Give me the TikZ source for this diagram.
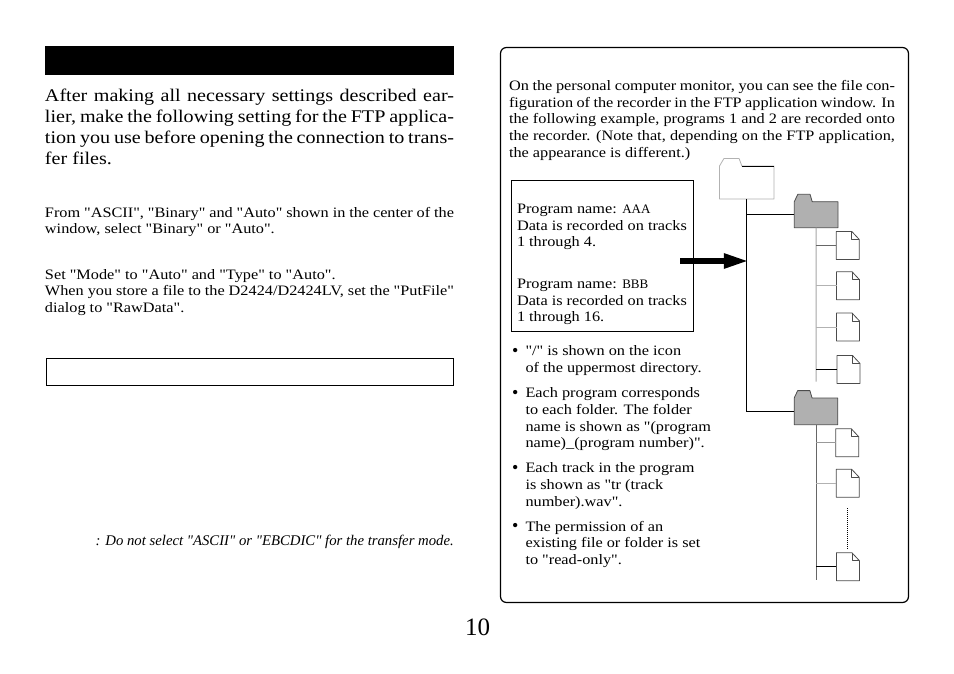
\documentclass[tikz,border=0pt]{standalone}
\usepackage{fontspec}
\setmainfont{Liberation Serif}[FakeStretch=1.13,Ligatures=TeXOff]
\newfontfamily\warnfont{Liberation Serif}[Ligatures=TeXOff]
\usetikzlibrary{positioning, arrows.meta}

% folder and file shapes, named so that connectors can reach them
\newcommand{\drawfolder}[6]{% name, x, bottom y, width, body height, fill
  \draw[shapeline,fill=#6] (#2,#3) -- ++(#4,0) -- ++(0,-#5) -- (#2+#4*0.41,#3-#5)
    -- ++(-#4*0.05,-7.4) -- (#2+#4*0.08,#3-#5-7.4) -- (#2,#3-#5) -- cycle;
  \node[hit,minimum width=#4,minimum height=#5] (#1) at (#2+#4*0.5,#3-#5*0.5) {};
}
\newcommand{\drawfile}[3]{% name, x, bottom y
  \draw[shapeline,fill=white] (#2,#3) -- ++(23,0) -- ++(0,-20) -- ++(-7.5,-8) -- ++(-15.5,0) -- cycle;
  \draw[shapeline] (#2+15.5,#3-28) -- ++(0,8) -- ++(7.5,0);
  \node[hit,minimum width=23,minimum height=28] (#1) at (#2+11.5,#3-14) {};
}
\newcommand{\capsname}[1]{{\warnfont\fontsize{13}{16.6}\selectfont #1}}

\begin{document}
\begin{tikzpicture}[
        x=1pt, y=-1pt, >=Stealth,
        shapeline/.style={draw=black!70,line width=0.8pt,line join=round},
        hit/.style={rectangle,inner sep=0pt,outer sep=0pt},
        body/.style={anchor=north west,inner sep=0pt,outer sep=0pt,
          font=\fontsize{14.4}{16.6}\selectfont,align=left,
          execute at begin node={\rule{0pt}{10pt}}},
        dotmark/.style={body,font=\warnfont\fontsize{18}{18}\selectfont},
        bigtext/.style={anchor=north west,inner sep=0pt,outer sep=0pt,text width=409pt,
          font=\fontsize{17.8}{21}\selectfont,align=justify,
          execute at begin node={\rule{0pt}{14pt}}},
        justbody/.style={body,text width=409pt,align=justify},
        branch/.style={line width=0.8pt},
        lightbranch/.style={draw=black!30,line width=1pt}]

        \useasboundingbox (0,0) rectangle (954,674);
        \fill[white] (0,0) rectangle (954,674);

        % Left column
        \node[rectangle,fill=black,minimum width=409,minimum height=29,inner sep=0pt] (titlebar) at (249.5,60.5) {};
        \node[bigtext] (intro) at (45,88) {After making all necessary settings described ear-\linebreak
          lier, make the following setting for the FTP applica-\linebreak
          tion you use before opening the connection to trans-\linebreak
          fer files.};
        \node[justbody] (binary) at (45,207) {From "ASCII", "Binary" and "Auto" shown in the center of the\linebreak
          window, select "Binary" or "Auto".};
        \node[justbody] (mode) at (45,269) {Set "Mode" to "Auto" and "Type" to "Auto".\\
          When you store a file to the D2424/D2424LV, set the "PutFile"\linebreak
          dialog to "RawData".};
        \node[rectangle,draw=black,line width=1.1pt,minimum width=407.5,minimum height=27.5,inner sep=0pt] (notebox) at (250,372) {};
        \node[anchor=base east,inner sep=0pt,font=\fontsize{14.75}{16}\selectfont\warnfont\itshape] (warning) at (454,545)
          {: Do not select "ASCII" or "EBCDIC" for the transfer mode.};
        \node[anchor=base,inner sep=0pt,font=\warnfont\fontsize{25}{28}\selectfont] (pagenum) at (477.5,635) {10};

        % Right panel
        \node[rectangle,draw=black,line width=1.2pt,rounded corners=6pt,minimum width=408,minimum height=555,inner sep=0pt] (panel) at (704.5,325) {};
        \node[justbody,text width=386pt] (panelintro) at (509,80.5) {On the personal computer monitor, you can see the file con-\linebreak
          figuration of the recorder in the FTP application window. In\linebreak
          the following example, programs 1 and 2 are recorded onto\linebreak
          the recorder. (Note that, depending on the FTP application,\linebreak
          the appearance is different.)};
        \node[rectangle,draw=black,line width=0.8pt,minimum width=182.5,minimum height=151,inner sep=0pt] (progbox) at (602.25,255.5) {};
        \node[body] (proga) at (517,204) {Program name: \capsname{AAA}\\Data is recorded on tracks\\1 through 4.};
        \node[body] (progb) at (517,279) {Program name: \capsname{BBB}\\Data is recorded on tracks\\1 through 16.};

        % Notes
        \node[body] (noteone) at (525.5,346) {"/" is shown on the icon\\of the uppermost directory.};
        \node[body] (notetwo) at (525.5,388) {Each program corresponds\\to each folder. The folder\\name is shown as "(program\\name)\_(program number)".};
        \node[body] (notethree) at (525.5,463) {Each track in the program\\is shown as "tr (track\\number).wav".};
        \node[body] (notefour) at (525.5,521) {The permission of an\\existing file or folder is set\\to "read-only".};
        \node[dotmark] (dotone) at (512,346) {•};
        \node[dotmark] (dottwo) at (512,388) {•};
        \node[dotmark] (dotthree) at (512,463) {•};
        \node[dotmark] (dotfour) at (512,521.4) {•};

        % Folders
        \begin{scope}[shapeline/.append style={draw=black!30}]
          \drawfolder{root}{719.5}{199}{54.5}{33}{white}
        \end{scope}
        \draw[line width=0.8pt] (741.8,166) -- (774,166);
        \drawfolder{folderone}{794.3}{227.7}{43.7}{26}{black!31}
        \drawfolder{foldertwo}{794.2}{424.7}{43.6}{26.7}{black!31}

        % Files
        \drawfile{fileone}{836.3}{259.5}
        \drawfile{filetwo}{836.5}{299.7}
        \drawfile{filethree}{836.5}{341}
        \drawfile{filefour}{837}{383.5}
        \drawfile{filefive}{835.8}{456.8}
        \drawfile{filesix}{836.2}{497.3}
        \drawfile{fileseven}{836.4}{580.7}

        % Root -> folders
        \draw[branch] (root.south) |- (foldertwo.west);
        \draw[branch] (root.south |- folderone.west) -- (folderone.west);

        % Folder -> files
        \coordinate (endone) at (816.2,381.5);
        \coordinate (endtwo) at (816,579.5);
        \draw[draw=black!35,line width=1pt] (folderone.south) -- (endone);
        \draw[draw=black!60,line width=0.8pt] (foldertwo.south) -- (endtwo);
        \draw[draw=black!60,line width=0.8pt] (endone |- fileone.west) -- (fileone.west);
        \draw[lightbranch] (endone |- filetwo.west) -- (filetwo.west);
        \draw[lightbranch] (endone |- filethree.west) -- (filethree.west);
        \draw[branch] (endone |- filefour.west) -- (filefour.west);
        \draw[draw=black!40,line width=1.3pt] (endtwo |- filefive.west) -- (filefive.west);
        \draw[lightbranch] (endtwo |- filesix.west) -- (filesix.west);
        \draw[branch] (endtwo |- fileseven.west) -- (fileseven.west);

        % Dots between files
        \coordinate (dotstart) at (847.3,508);
        \coordinate (dotend) at (847.3,550);
        \draw[line width=0.8pt,dash pattern=on 1pt off 1pt] (dotstart) -- (dotend);

        % Arrow
        \coordinate (arrowstart) at (680,261);
        \draw[-{Triangle[length=26pt,width=13.5pt]},line width=6.5pt,shorten >=-3pt] (arrowstart) -- (arrowstart -| root.south);
\end{tikzpicture}
\end{document}
